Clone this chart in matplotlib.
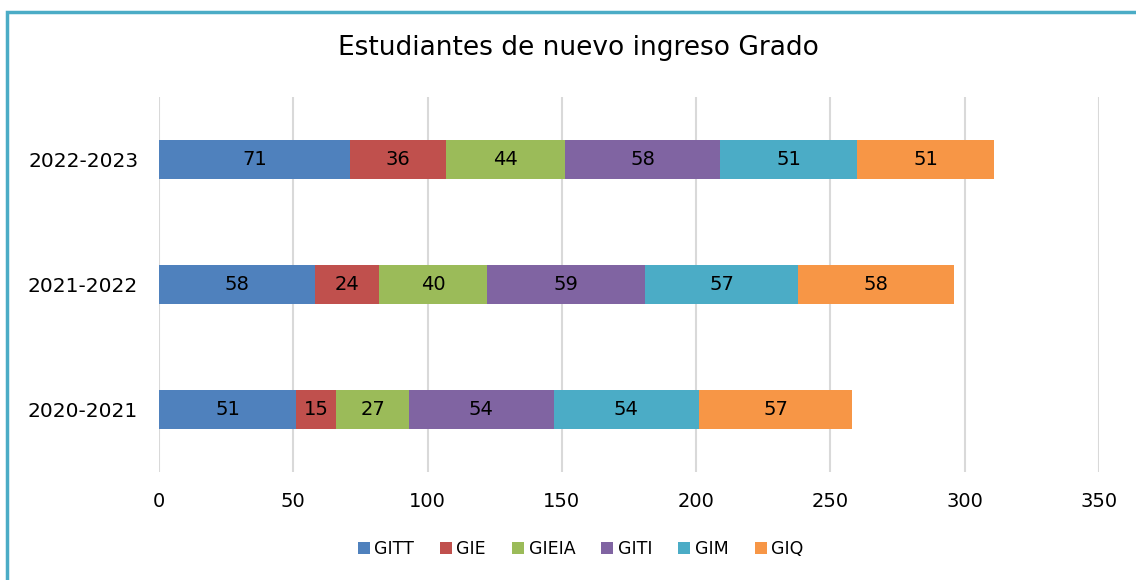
import matplotlib.pyplot as plt
from matplotlib.patches import Rectangle

years = ["2020-2021", "2021-2022", "2022-2023"]
series = ["GITT", "GIE", "GIEIA", "GITI", "GIM", "GIQ"]
gitt = [51, 58, 71]
gie = [15, 24, 36]
gieia = [27, 40, 44]
giti = [54, 59, 58]
gim = [54, 57, 51]
giq = [57, 58, 51]
colors = ["#4F81BD", "#C0504D", "#9BBB59", "#8064A2", "#4BACC6", "#F79646"]

plt.rcParams["font.family"] = ["DejaVu Sans"]

fig = plt.figure(figsize=(11.36, 5.8), dpi=100)
ax = fig.add_axes([0.140, 0.186, 0.8275, 0.647])

left = [0, 0, 0]
for name, vals, col in zip(series, [gitt, gie, gieia, giti, gim, giq], colors):
    bars = ax.barh(years, vals, left=left, height=0.31, color=col, label=name, zorder=3)
    ax.bar_label(bars, labels=[str(v) for v in vals], label_type="center",
                 fontsize=14, color="black")
    left = [l + v for l, v in zip(left, vals)]

ax.set_xlim(0, 350)
ax.set_ylim(-0.5, 2.5)
ax.set_xticks(range(0, 351, 50))
ax.grid(axis="x", color="#D9D9D9", linewidth=1.5, zorder=0)
for s in ax.spines.values():
    s.set_visible(False)
ax.tick_params(length=0, labelsize=14.5, pad=15)
ax.tick_params(axis="x", labelsize=14, pad=14)

fig.text(0.509, 0.918, "Estudiantes de nuevo ingreso Grado", ha="center", va="center",
         fontsize=19)

ax.legend(loc="center", bbox_to_anchor=(0.511, 0.053), bbox_transform=fig.transFigure,
          ncol=6, frameon=False, fontsize=12.5, handlelength=0.7, handleheight=0.7,
          handletextpad=0.25, columnspacing=1.5)

# chart frame (right and bottom edges fall outside the image)
fig.patches.append(Rectangle((7 / 1136, -0.1), 1.2, 1 - 12 / 580 + 0.1,
                             transform=fig.transFigure, fill=False,
                             edgecolor="#4BACC6", linewidth=2.5))

fig.savefig("out.png", dpi=100)
